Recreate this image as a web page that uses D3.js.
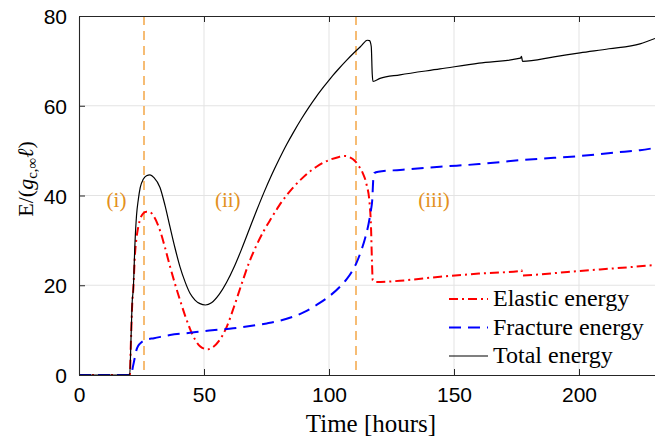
<!DOCTYPE html>
<html>
<head>
<meta charset="utf-8">
<script src="https://cdn.jsdelivr.net/npm/d3@7"></script>
<style>
  html, body { margin: 0; padding: 0; background: #fff; }
  svg { display: block; }
  .serif { font-family: "Liberation Serif", "Times New Roman", "DejaVu Serif", serif; }
  .sans { font-family: "Liberation Sans", Arial, Helvetica, sans-serif; }
</style>
</head>
<body>
<svg id="chart" width="655" height="440"></svg>
<script>
// ---- data ----
const elasticTime = [0,20.3,20.8,21.3,21.7,22.4,23.0,23.7,24.5,25.7,27,28.4,30,32.4,34.4,36.4,38.4,40.4,42.4,44.4,46.4,48.4,50.4,51.3,53,56,59,62,65,68,71,74,77,80,83,86,89,92,95,98,101,104,106.4,108.4,110.4,112,113.5,115,116.2,116.8,117.2,117.5,119,128.4,144.4,160,176.6,177.0,177.4,190,200.4,215,230.4];
const elasticValues = [0,0,8,16,19,27,30.5,33,34.8,36,36.4,36.3,35.3,32.2,28.4,24.2,20.3,16.7,13.3,10.3,7.9,6.4,5.8,5.7,6.0,7.6,10.6,15.2,20.2,25.0,28.9,32.2,35.0,37.7,40.0,42.0,43.7,45.2,46.4,47.4,48.1,48.6,48.8,48.5,47.7,46.5,45.0,42.5,38.5,33,25,21.1,20.7,21,21.9,22.6,23.2,23.4,22.2,22.7,23.2,23.8,24.5];

const fractureTime = [0,20.5,21,21.7,22.4,23,23.7,24.4,25.7,27,30,36.4,44.4,50.4,56,61.7,68.4,75.1,80.4,85.7,90,95,100,104.4,107,109,111,113,114.5,115.8,116.8,117.3,117.7,118.1,119.7,128.4,144.4,160,177,190,200.4,215,224.4,230.4];
const fractureValues = [0,0,0.4,2.2,4.1,5.6,6.5,7.0,7.6,7.9,8.2,8.9,9.4,9.8,10.1,10.4,10.9,11.5,12.1,13,14,15.6,17.5,19.7,21.3,22.9,25.0,27.9,30.6,33.6,36.8,39,43.5,45.0,45.3,45.7,46.4,47,47.9,48.4,48.8,49.6,50.1,50.6];

const totalTime = [0,20.3,20.8,21.3,21.7,22.4,23.0,23.7,24.5,25.7,27,28.4,30,32.4,34.4,36.4,38.4,40.4,42.4,44.4,46.4,48.4,50.6,53,56,59,62,65,68,71,74,77,80,83,86,89,92,95,98,101,104,107,110,113,115.3,116.2,116.9,117.3,117.6,120.4,128.4,144.4,160,176.6,177.0,177.4,190,200.4,212,224.4,230.4];
const totalValues = [0,0,8,16.5,19,29.5,35.5,39,41.8,43.6,44.4,44.6,44,41.8,37.8,33,28.3,24.1,20.8,18.2,16.7,15.9,15.6,16.1,17.9,20.6,24.0,28.0,32.3,36.6,40.7,44.5,48.0,51.3,54.3,57.1,59.7,62.1,64.3,66.4,68.3,70.1,71.8,73.4,74.6,74.5,73.2,67,65.4,66.1,66.9,68.2,69.5,70.6,71.0,69.9,70.9,71.8,72.7,73.8,75.0];

const phaseTimes = [26, 110.8];
const phaseLabels = ["(i)", "(ii)", "(iii)"];
const phaseLabelTimes = [15, 59.5, 142];
const phaseLabelY = 37.5;

const xTicks = [0, 50, 100, 150, 200];
const yTicks = [0, 20, 40, 60, 80];
const seriesNames = ["Elastic energy", "Fracture energy", "Total energy"];

// ---- layout ----
const svg = d3.select("#chart");
const L = 79, R = 655, T = 16, B = 375;
const x = d3.scaleLinear().domain([0, 230.4]).range([L, R]);
const y = d3.scaleLinear().domain([0, 80]).range([B, T]);

const axisColor = "#262626";
const gridColor = "#e3e3e3";
const orangeLine = "#F2A03A";
const orangeText = "#E39020";

svg.append("defs").append("clipPath").attr("id", "clip")
  .append("rect").attr("x", L).attr("y", T).attr("width", R - L).attr("height", B - T);

// grid
const grid = svg.append("g");
grid.selectAll(".gx").data(xTicks.filter(d => d > 0)).join("line")
  .attr("x1", d => x(d)).attr("x2", d => x(d)).attr("y1", T).attr("y2", B)
  .attr("stroke", gridColor).attr("stroke-width", 1);
grid.selectAll(".gy").data(yTicks.filter(d => d > 0 && d < 80)).join("line")
  .attr("x1", L).attr("x2", R).attr("y1", d => y(d)).attr("y2", d => y(d))
  .attr("stroke", gridColor).attr("stroke-width", 1);

// phase lines
svg.append("g").selectAll("line").data(phaseTimes).join("line")
  .attr("x1", d => x(d)).attr("x2", d => x(d)).attr("y1", T).attr("y2", B)
  .attr("stroke", orangeLine).attr("stroke-width", 1.4)
  .attr("stroke-dasharray", "9,6");

// phase labels
svg.append("g").selectAll("text").data(phaseLabels).join("text")
  .attr("class", "serif")
  .attr("x", (d, i) => x(phaseLabelTimes[i]))
  .attr("y", y(phaseLabelY))
  .attr("text-anchor", "middle")
  .style("font-size", "21px")
  .attr("fill", orangeText)
  .text(d => d);

// series
const line = d3.line().curve(d3.curveMonotoneX).x(d => x(d[0])).y(d => y(d[1]));
const plot = svg.append("g").attr("clip-path", "url(#clip)");
const series = [
  { t: elasticTime, v: elasticValues, color: "#ff0000", dash: "9,4,2,4", w: 2 },
  { t: fractureTime, v: fractureValues, color: "#0000ff", dash: "12,7", w: 2 },
  { t: totalTime, v: totalValues, color: "#000000", dash: null, w: 1.2 }
];
series.forEach(s => {
  plot.append("path")
    .datum(s.t.map((t, i) => [t, s.v[i]]))
    .attr("d", line)
    .attr("fill", "none")
    .attr("stroke", s.color)
    .attr("stroke-width", s.w)
    .attr("stroke-dasharray", s.dash)
    .attr("stroke-linejoin", "round");
});

// axes
const xAxis = d3.axisBottom(x).tickValues(xTicks).tickSizeInner(-6).tickSizeOuter(0).tickPadding(12);
const gx = svg.append("g").attr("transform", `translate(0,${B})`).call(xAxis);
const xTop = d3.axisTop(x).tickValues(xTicks).tickSizeInner(-6).tickSizeOuter(0).tickFormat("");
const gxt = svg.append("g").attr("transform", `translate(0,${T})`).call(xTop);
const yAxis = d3.axisLeft(y).tickValues(yTicks).tickSizeInner(-6).tickSizeOuter(0).tickPadding(12);
const gy = svg.append("g").attr("transform", `translate(${L},0)`).call(yAxis);
[gx, gxt, gy].forEach(g => {
  g.attr("font-family", null).attr("font-size", null);
  g.select(".domain").attr("stroke", axisColor).attr("stroke-width", 1.1);
  g.selectAll(".tick line").attr("stroke", axisColor).attr("stroke-width", 1);
  g.selectAll(".tick text")
    .attr("class", "sans")
    .style("font-size", "21px").attr("fill", "#000");
});
gx.selectAll(".tick text").attr("dy", "0.71em");
gy.selectAll(".tick text").attr("dy", "0.36em");

// axis labels
svg.append("text")
  .attr("class", "serif")
  .attr("x", 371).attr("y", 432)
  .attr("text-anchor", "middle")
  .style("font-size", "25px")
  .attr("fill", "#000")
  .text("Time [hours]");

const yl = svg.append("text")
  .attr("class", "serif")
  .attr("transform", `translate(33,${179}) rotate(-90)`)
  .attr("text-anchor", "middle")
  .style("font-size", "22px")
  .attr("fill", "#000");
yl.append("tspan").text("E/(");
yl.append("tspan").style("font-style", "italic").text("g");
yl.append("tspan").style("font-size", "15px").attr("dy", 4).text("c,∞");
yl.append("tspan").attr("dy", -4).style("font-style", "italic").text("ℓ");
yl.append("tspan").text(")");

// legend
const legend = svg.append("g");
const legY = [299, 327.5, 356];
series.forEach((s, i) => {
  legend.append("line")
    .attr("x1", 449).attr("x2", 488).attr("y1", legY[i]).attr("y2", legY[i])
    .attr("stroke", s.color).attr("stroke-width", s.w)
    .attr("stroke-dasharray", s.dash);
  legend.append("text")
    .attr("class", "serif")
    .attr("x", 493).attr("y", legY[i] + 7)
    .style("font-size", "24px")
    .attr("fill", "#000")
    .text(seriesNames[i]);
});
</script>
</body>
</html>
